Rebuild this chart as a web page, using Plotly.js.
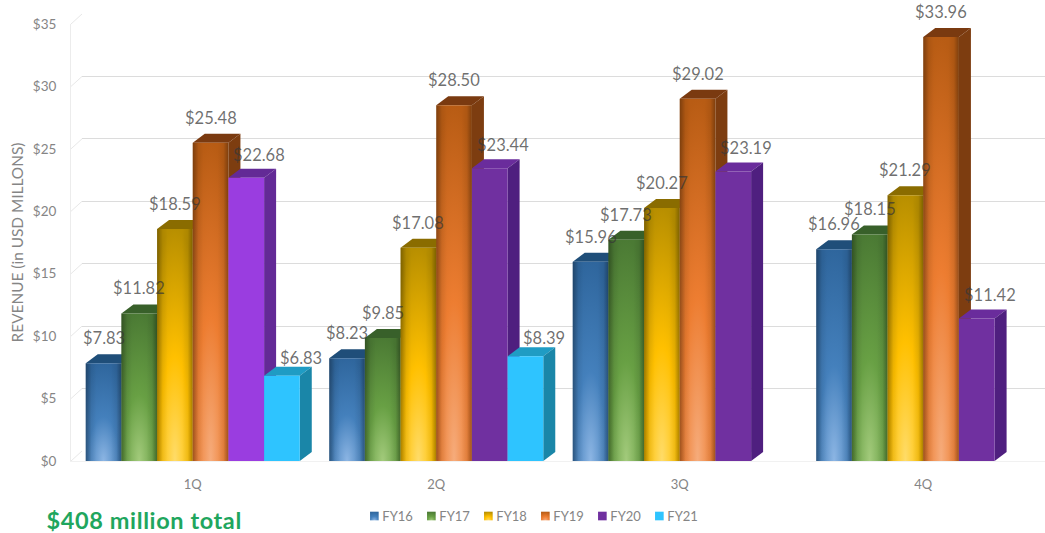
<!DOCTYPE html>
<html><head><meta charset="utf-8">
<script src="https://cdn.plot.ly/plotly-3.0.1.min.js"></script>
<style>html,body{margin:0;padding:0;background:#fff}#c{width:1045px;height:533px}</style>
</head><body><div id="c"></div>
<script>
const quarters = ['1Q','2Q','3Q','4Q'];
const FY16 = [7.83, 8.23, 15.96, 16.96];
const FY17 = [11.82, 9.85, 17.73, 18.15];
const FY18 = [18.59, 17.08, 20.27, 21.29];
const FY19 = [25.48, 28.50, 29.02, 33.96];
const FY20 = [22.68, 23.44, 23.19, 11.42];
const FY21 = [6.83, 8.39, null, null];
const seriesNames = ['FY16','FY17','FY18','FY19','FY20','FY21'];
const seriesValues = [FY16, FY17, FY18, FY19, FY20, FY21];

const baseColors = ['#3f7cb8','#5f9440','#ffc000','#ed7d31','#7030a0','#2ec4ff'];
const sideColors = ['#245280','#3f6a2c','#8f7000','#7d3d10','#4f1f7f','#1a86a8'];
const topColors  = ['#1f4e79','#38602a','#8a6c00','#7a3a10','#6a2c9c','#1f9cc4'];
const firstFY20  = '#9a3de0', firstFY20Side = '#632a96';
const gradients = [
  ['#8db6e4','#4480bc','#2f669d'],
  ['#a3cb7c','#68a044','#4b7a34'],
  ['#ffdc6a','#ffc000','#b88f00'],
  ['#f6ac7c','#ed7d31','#b85c14']
];
const bargap = 0.121, depthX = 12, depthY = -9;
const labelShiftX = [0,0,0,0,13,19];
const labelShiftY = [-25,-25,-25,-25,-23,-18];
const labelColor = 'rgba(55,55,55,0.72)', axisColor = '#858585', gridColor = '#dcdcdc', stubColor = '#e8e8e8';

const data = seriesNames.map((n,i)=>({
  type:'bar', name:n, x:quarters, y:seriesValues[i], cliponaxis:false,
  marker:{color: i===4 ? quarters.map((q,k)=>k===0?firstFY20:baseColors[4]) : baseColors[i], line:{width:0}},
  hoverinfo:'y'
}));

const slot = (1-bargap)/seriesNames.length;
const annotations = [];
seriesValues.forEach((vals,s)=>vals.forEach((v,q)=>{
  if(v===null) return;
  annotations.push({xref:'x',yref:'y',x:q+(s-(seriesNames.length-1)/2)*slot,y:v,showarrow:false,
    text:'$'+v.toFixed(2),xanchor:'center',yanchor:'middle',xshift:labelShiftX[s],yshift:-labelShiftY[s],
    font:{family:'Lato, sans-serif',size:16.5,color:labelColor}});
}));
annotations.push({xref:'paper',yref:'paper',x:-0.0215,y:-0.1352,xanchor:'left',yanchor:'middle',showarrow:false,
  text:'<b>$408 million total</b>',font:{family:'Lato, sans-serif',size:23.5,color:'#1fa65e'}});

const layout = {
  width:1045,height:533,margin:{l:71,r:0,t:24,b:72},paper_bgcolor:'#fff',plot_bgcolor:'#fff',
  barmode:'group',bargap:bargap,bargroupgap:0,showlegend:true,
  font:{family:'Lato, sans-serif',color:axisColor},
  xaxis:{type:'category',range:[-0.5,3.5],autorange:false,showgrid:false,zeroline:false,showline:true,linecolor:'#f1f1f1',
    ticks:'',ticklabelstandoff:11,tickfont:{size:13,color:axisColor}},
  yaxis:{range:[0,35],autorange:false,dtick:5,tick0:0,tickprefix:'$',showgrid:true,gridcolor:gridColor,gridwidth:1,zeroline:false,
    showline:true,linecolor:'#ececec',ticks:'',ticklabelstandoff:11,tickfont:{size:13.5,color:axisColor},
    title:{text:'REVENUE (in USD MILLONS)',standoff:5,font:{size:15.4,color:axisColor}}},
  legend:{orientation:'h',x:0.2786,y:-0.126,xanchor:'left',yanchor:'middle',itemwidth:30,entrywidth:12,entrywidthmode:'pixels',
    font:{size:13,color:axisColor},bgcolor:'rgba(0,0,0,0)',traceorder:'normal',itemclick:false,itemdoubleclick:false},
  annotations:annotations
};

Plotly.newPlot('c',data,layout,{displayModeBar:false,staticPlot:true}).then(gd=>{
  const NS='http://www.w3.org/2000/svg';
  const svg=gd.querySelector('.main-svg');
  const mk=(tag,attrs,parent)=>{const e=document.createElementNS(NS,tag);for(const k in attrs)e.setAttribute(k,attrs[k]);if(parent)parent.appendChild(e);return e;};
  const defs=mk('defs',{});svg.insertBefore(defs,svg.firstChild);
  gradients.forEach((g,i)=>{
    const r=mk('radialGradient',{id:'front'+i,cx:0.5,cy:1,r:1,fx:0.5,fy:1},defs);
    mk('stop',{offset:'0%','stop-color':g[0]},r);mk('stop',{offset:'45%','stop-color':g[1]},r);mk('stop',{offset:'100%','stop-color':g[2]},r);
  });
  const e=mk('linearGradient',{id:'edges',x1:0,x2:1,y1:0,y2:0},defs);
  [[0,.32],[.16,.06],[.3,0],[.7,0],[.86,.06],[1,.32]].forEach(a=>mk('stop',{offset:a[0],'stop-color':'#000','stop-opacity':a[1]},e));

  // back-wall gridlines
  const gl=gd.querySelector('.gridlayer');
  gl.setAttribute('transform','translate(11,-10)');
  const ya=gd._fullLayout.yaxis, xa=gd._fullLayout.xaxis;
  const stubs=mk('g',{});gl.parentNode.insertBefore(stubs,gl.nextSibling);
  for(let v=0;v<=35;v+=5){
    const py=ya._offset+ya.l2p(v);
    mk('line',{x1:xa._offset,y1:py,x2:xa._offset+11,y2:py-10,stroke:stubColor,'stroke-width':1},stubs);
  }

  // bar faces built from the library's own bar geometry
  gd.querySelectorAll('.barlayer .trace.bars').forEach((tr,s)=>{
    tr.querySelectorAll('.point').forEach((pt,q)=>{
      const p=pt.querySelector('path');const b=p.getBBox();
      if(!(b.height>0)) return;
      const x0=b.x,x1=b.x+b.width,y0=b.y,y1=b.y+b.height;
      const side=(s===4&&q===0)?firstFY20Side:sideColors[s];
      const top=(s===4&&q===0)?firstFY20Side:topColors[s];
      const t=mk('path',{d:`M${x0},${y0}L${x0+depthX},${y0+depthY}H${x1+depthX}L${x1},${y0}Z`,fill:top});
      const r=mk('path',{d:`M${x1},${y0}L${x1+depthX},${y0+depthY}V${y1+depthY}L${x1},${y1}Z`,fill:side});
      pt.insertBefore(t,p);pt.insertBefore(r,p);
      if(s<4){
        p.style.fill=`url(#front${s})`;
        mk('path',{d:p.getAttribute('d'),fill:'url(#edges)'},pt);
      }
    });
  });

  // the total line is a little wider than the font's natural set width
  gd.querySelectorAll('.annotation-text').forEach(t=>{
    if(t.textContent.indexOf('million')>=0) t.style.letterSpacing='0.6px';
  });

  // legend swatches sit close to their text; last entry must not be clipped
  gd.querySelectorAll('.legend [clip-path]').forEach(n=>n.removeAttribute('clip-path'));
  gd.querySelectorAll('.legend .traces').forEach((tr,i)=>{
    const p=tr.querySelector('.legendbar path, path.legendbar, .legendpoints path');
    if(!p) return;
    const cur=p.getAttribute('transform')||'';
    p.setAttribute('transform','translate(12,0) '+cur+' scale(0.72)');
    p.style.fill=i<4?`url(#front${i})`:baseColors[i];
  });
});
</script></body></html>
